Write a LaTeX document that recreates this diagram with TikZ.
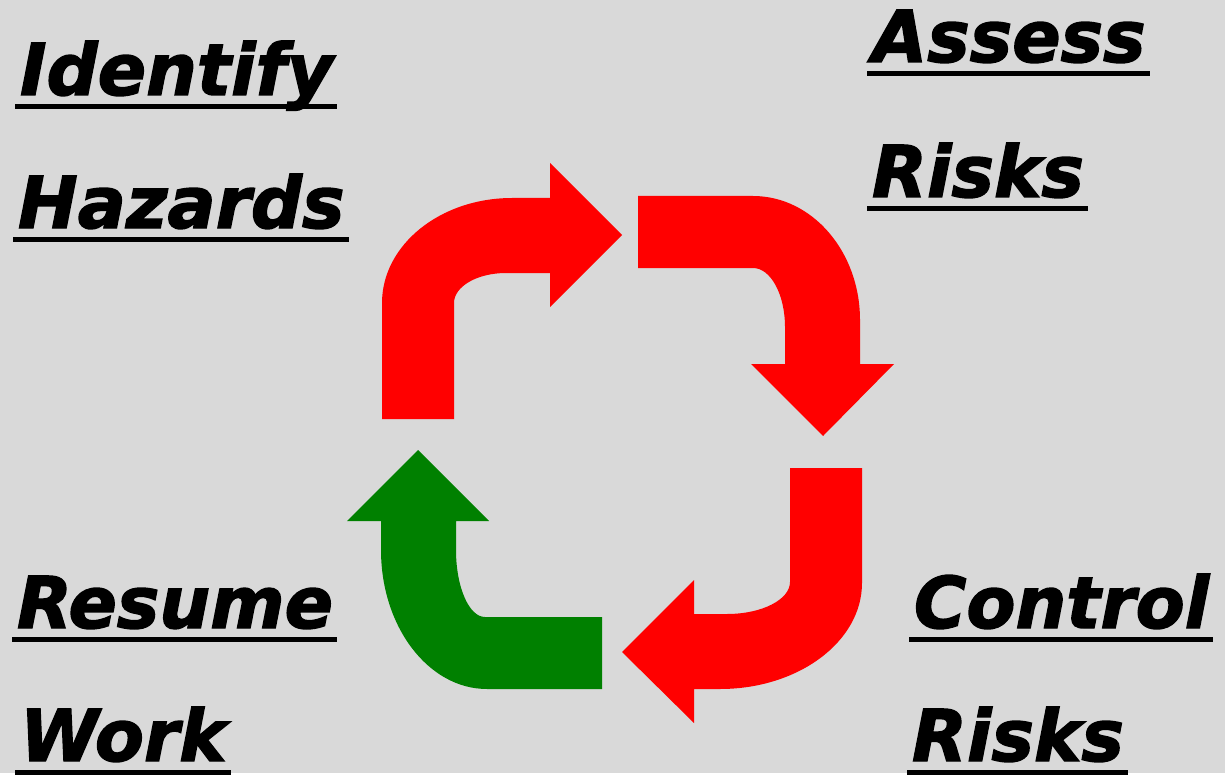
\documentclass[tikz,border=0pt]{standalone}
\usepackage{fontspec}
\newfontfamily\lblfont{DejaVu Sans}[BoldItalicFeatures={FakeBold=2}]
\usetikzlibrary{positioning,calc}
\definecolor{slidebg}{HTML}{D9D9D9}
\definecolor{stopred}{HTML}{FF0000}
\definecolor{gogreen}{HTML}{008000}

\begin{document}
\begin{tikzpicture}[
  x=0.5pt, y=-0.5pt,
  %% --- styles ---
  step label/.style={anchor=base west, inner sep=0pt, outer sep=0pt,
    font=\lblfont\bfseries\itshape\fontsize{35.7}{40}\selectfont},
  uline/.style={line width=2.5pt, line cap=butt},
  redarrow/.style={fill=stopred, draw=none},
  greenarrow/.style={fill=gogreen, draw=none}
]

  %% --- background (fixes the bounding box) ---
  \fill[slidebg] (0,0) rectangle (1225,773);

  %% --- 1. labels at the four corners ---
  \node[step label] (identify) at (20,95)  {Identify};
  \node[step label] (hazards)  at (18,228) {Hazards};
  \node[step label] (assess)   at (872,62) {Assess};
  \node[step label] (arisks)   at (872,197) {Risks};
  \node[step label] (resume)   at (17,628) {Resume};
  \node[step label] (work)     at (20,761) {Work};
  \node[step label] (control)  at (914,628) {Control};
  \node[step label] (crisks)   at (912,761) {Risks};

  % underlines
  \foreach \n in {identify,hazards,assess,arisks,resume,work,control,crisks} {
    \draw[uline] ([xshift=-2.5pt,yshift=-5.75pt]\n.base west) -- ([xshift=2pt,yshift=-5.75pt]\n.base east);
  }

  %% --- 2. the cycle of bent arrows ---
  % top left: up, then right
  \fill[redarrow] (382,419) -- (382,303)
    arc[start angle=180, end angle=270, x radius=130, y radius=105]
    -- (550,198) -- (550,163) -- (622,235) -- (550,307) -- (550,273) -- (506,273)
    arc[start angle=270, end angle=180, x radius=52, y radius=30]
    -- (454,419) -- cycle;

  % top right: right, then down
  \fill[redarrow] (638,196) -- (753,196)
    arc[start angle=270, end angle=360, x radius=107, y radius=124]
    -- (860,364) -- (894,364) -- (823,436) -- (751,364) -- (785,364) -- (785,327)
    arc[start angle=0, end angle=-90, x radius=32, y radius=59]
    -- (638,268) -- cycle;

  % bottom right: down, then left
  \fill[redarrow] (862,468) -- (862,583)
    arc[start angle=0, end angle=90, x radius=142, y radius=106]
    -- (694,689) -- (694,723) -- (622,652) -- (694,580) -- (694,614) -- (727,614)
    arc[start angle=90, end angle=0, x radius=63, y radius=32]
    -- (790,468) -- cycle;

  % bottom left: left, then up (green)
  \fill[greenarrow] (602,617) -- (485,617)
    arc[start angle=90, end angle=180, x radius=29, y radius=67]
    -- (456,521) -- (489,521) -- (418,450) -- (347,521) -- (381,521) -- (381,550)
    arc[start angle=180, end angle=90, x radius=106, y radius=139]
    -- (602,689) -- cycle;

\end{tikzpicture}
\end{document}
